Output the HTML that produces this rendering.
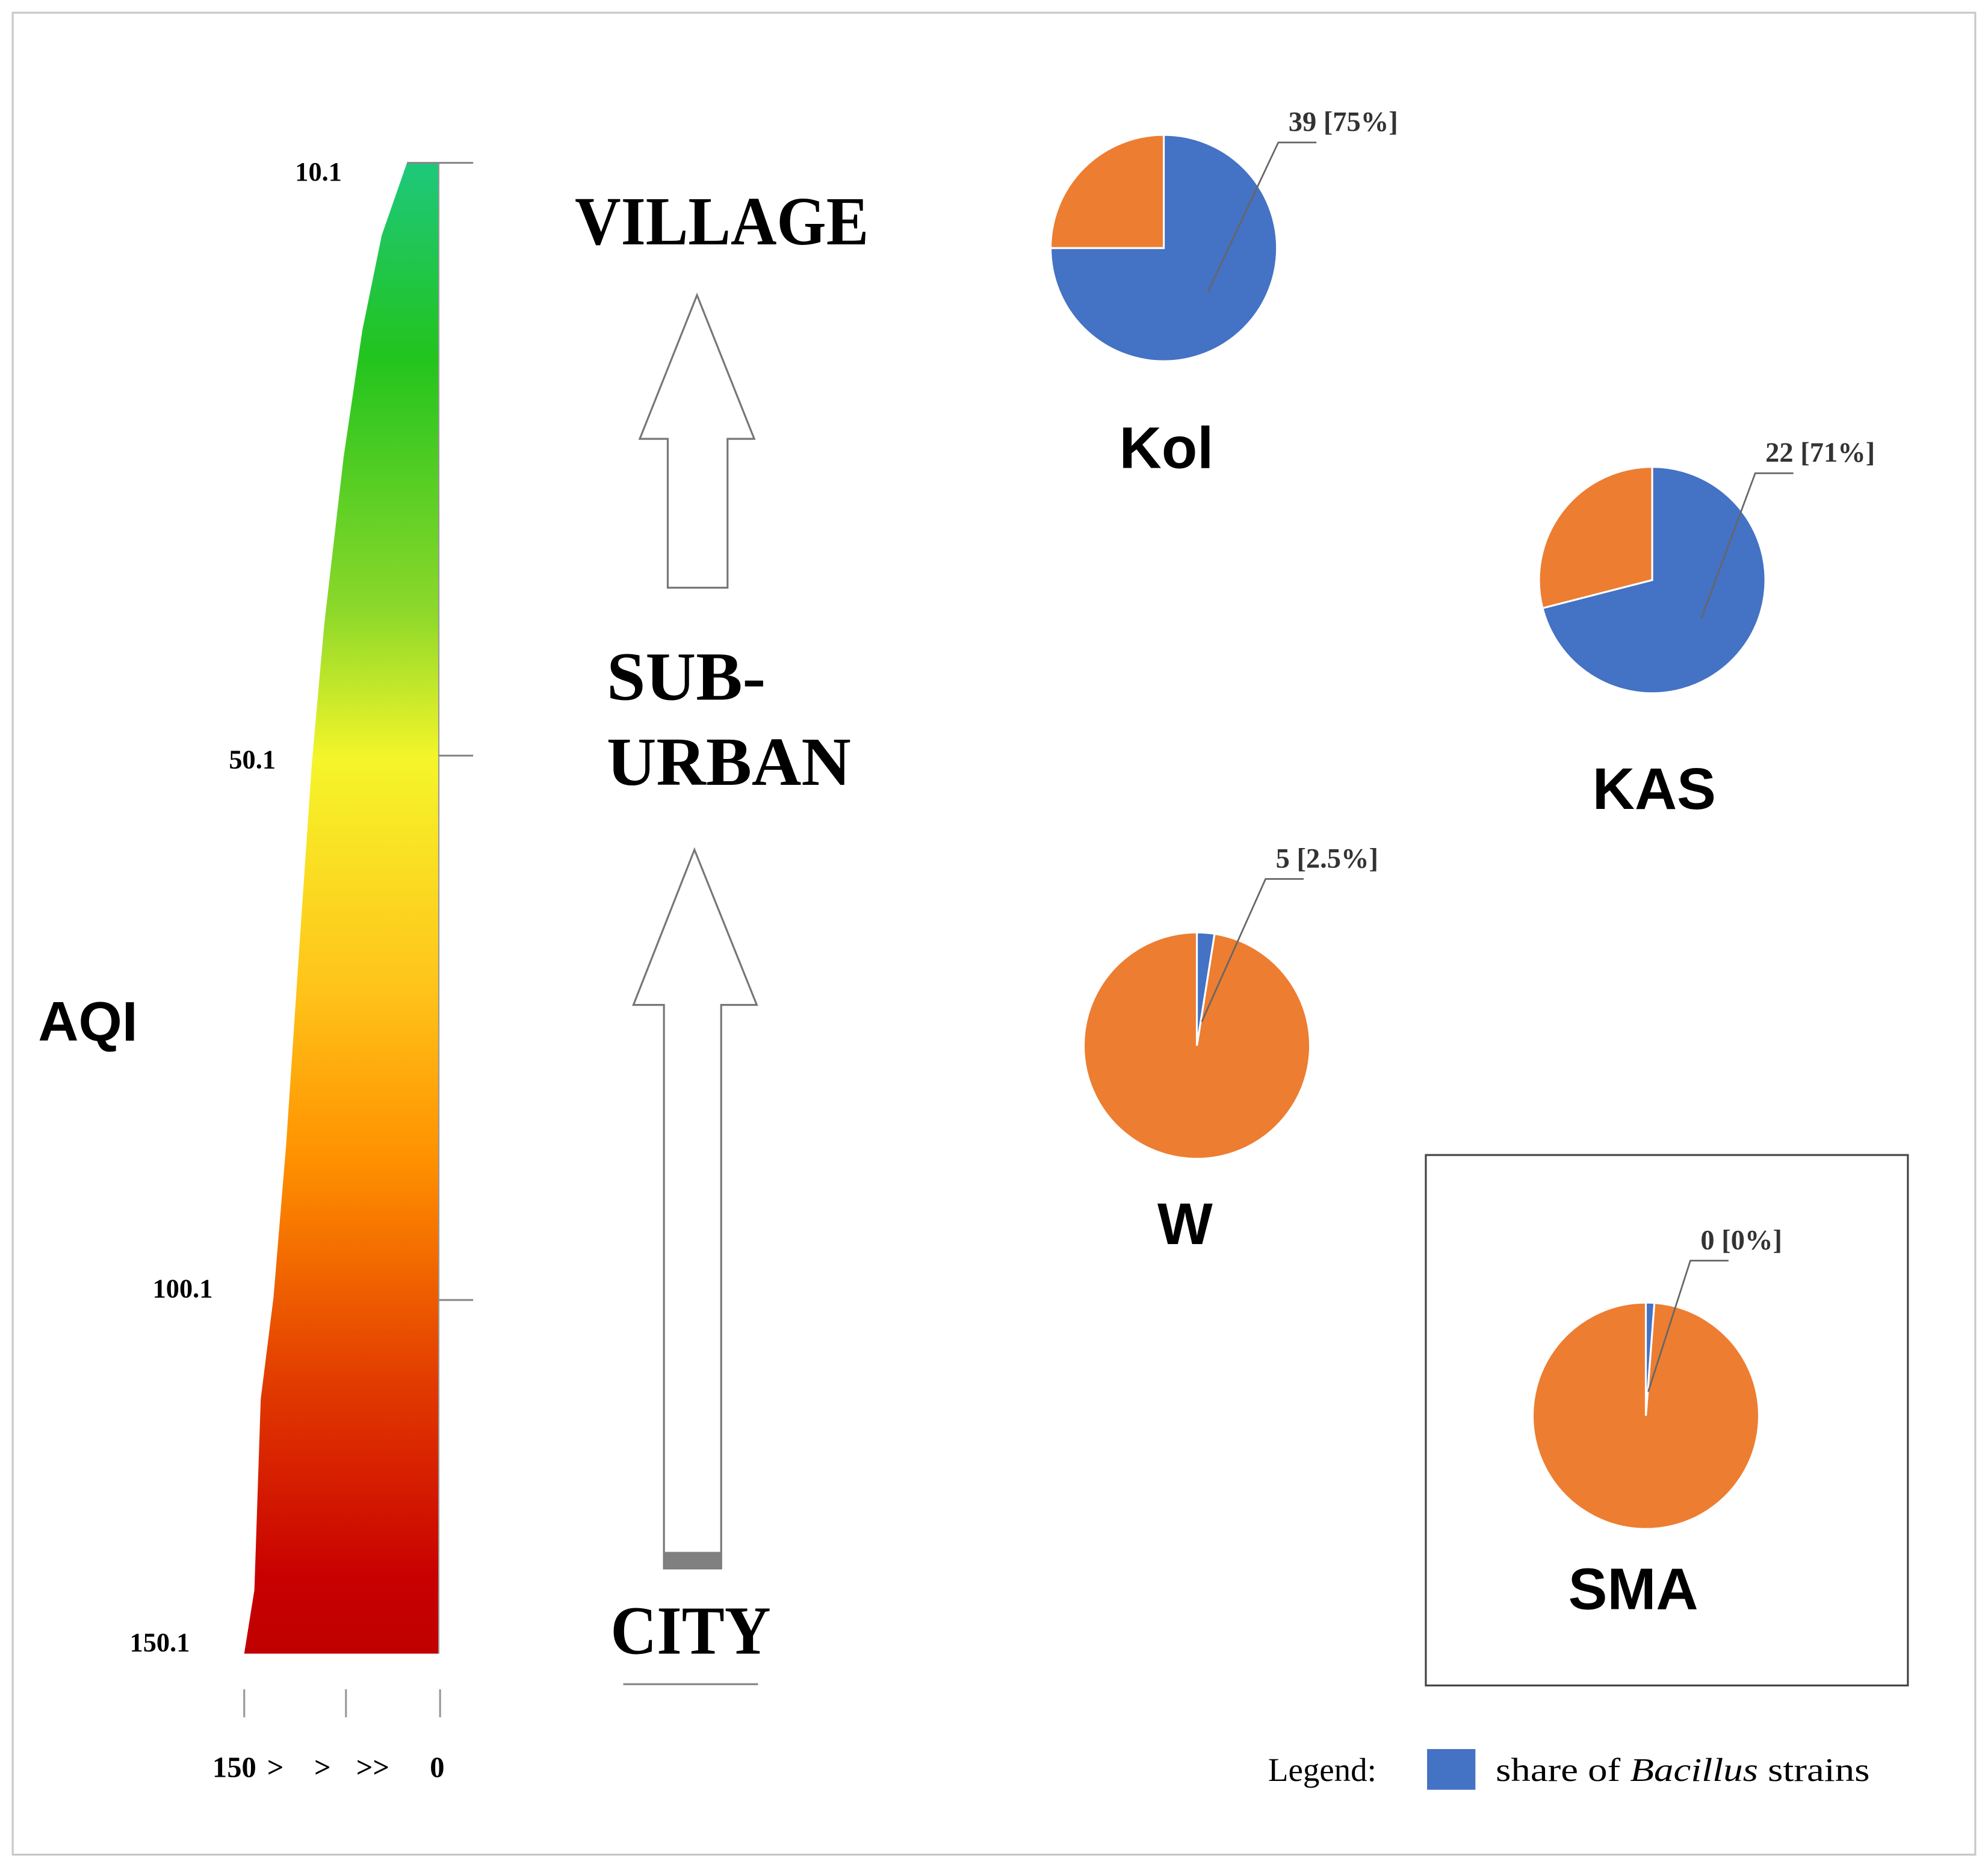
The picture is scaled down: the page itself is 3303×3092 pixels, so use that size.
<!DOCTYPE html>
<html><head><meta charset="utf-8"><style>
html,body{margin:0;padding:0;background:#fff;}
svg{display:block;}
.serif{font-family:"Liberation Serif",serif;font-weight:bold;}
.sans{font-family:"Liberation Sans",sans-serif;font-weight:bold;}
</style></head><body>
<svg id="chart" width="3303" height="3092" viewBox="0 0 1563 1463" preserveAspectRatio="none" xmlns="http://www.w3.org/2000/svg">
<defs>
<linearGradient id="aqiGrad" x1="0" y1="0" x2="0" y2="1">
<stop offset="0" stop-color="#1ec87c"/>
<stop offset="0.13" stop-color="#22c41e"/>
<stop offset="0.3" stop-color="#8cd82a"/>
<stop offset="0.4" stop-color="#f5f52a"/>
<stop offset="0.55" stop-color="#ffc51a"/>
<stop offset="0.67" stop-color="#ff9000"/>
<stop offset="0.82" stop-color="#e23a00"/>
<stop offset="0.95" stop-color="#c80000"/>
<stop offset="1" stop-color="#c00000"/>
</linearGradient>
</defs>
<rect x="10" y="10" width="1543" height="1448" fill="none" stroke="#c8c8c8" stroke-width="1.5"/>
<g id="aqi"></g>
<text class="sans" x="30" y="818" font-size="44">AQI</text>
<g stroke="#999" stroke-width="1.5">
<line x1="192" y1="1328" x2="192" y2="1350"/><line x1="272" y1="1328" x2="272" y2="1350"/><line x1="346" y1="1328" x2="346" y2="1350"/>
</g>
<g class="serif" font-size="23">
<text x="167" y="1397">150</text><text x="210" y="1397">&gt;</text><text x="247" y="1397">&gt;</text><text x="280" y="1397">&gt;&gt;</text><text x="338" y="1397">0</text>
</g>

<text class="serif" x="452" y="192" font-size="54" textLength="231" lengthAdjust="spacingAndGlyphs">VILLAGE</text>
<text class="serif" x="477" y="550" font-size="54" textLength="125" lengthAdjust="spacingAndGlyphs">SUB-</text>
<text class="serif" x="477" y="617" font-size="54" textLength="192" lengthAdjust="spacingAndGlyphs">URBAN</text>
<text class="serif" x="480" y="1300" font-size="54" textLength="126" lengthAdjust="spacingAndGlyphs">CITY</text>
<line x1="490" y1="1324" x2="596" y2="1324" stroke="#888" stroke-width="1.5"/>
<polygon points="548,232 593,345 572,345 572,462 525,462 525,345 503,345" fill="#fff" stroke="#777" stroke-width="1.5"/>
<polygon points="546,668 595,790 567,790 567,1233 522,1233 522,790 498,790" fill="#fff" stroke="#777" stroke-width="1.5"/>
<rect x="522" y="1220" width="45" height="13" fill="#808080"/>

<rect x="1121" y="908" width="379" height="417" fill="none" stroke="#444" stroke-width="1.5"/>
<g id="pies"></g>

<text x="997" y="1400" font-size="26" font-family="Liberation Serif, serif">Legend:</text>
<rect x="1122" y="1375" width="38" height="32" fill="#4472c4"/>
<text x="1176" y="1400" font-size="26" font-family="Liberation Serif, serif" textLength="294" lengthAdjust="spacingAndGlyphs">share of <tspan font-style="italic">Bacillus</tspan> strains</text>
</svg>
<script>
// AQI profile (left edge of the colored wedge vs AQI)
const aqiTicks = [10.1, 50.1, 100.1, 150.1];
const aqiTickLabels = ["10.1", "50.1", "100.1", "150.1"];
const profileAqi = [10.1, 15, 21.4, 30, 41.2, 50.8, 68.3, 85.8, 99.9, 114.1, 141.1, 150.1];
const profileLevel = [13, 23.4, 31.3, 39, 46.9, 52, 57.3, 62.5, 67.7, 72.9, 75.5, 79.7];
// Pies
const pieNames = ["Kol", "KAS", "W", "SMA"];
const pieCounts = ["39", "22", "5", "0"];
const pieShares = [75, 71, 2.5, 1.2];
const pieLabels = ["39 [75%]", "22 [71%]", "5 [2.5%]", "0 [0%]"];

const NS = "http://www.w3.org/2000/svg";
function mk(tag, attrs, parent) { const e = document.createElementNS(NS, tag); for (const k in attrs) e.setAttribute(k, attrs[k]); parent.appendChild(e); return e; }
// piecewise axis (non-uniform AQI scale as in the figure)
const axisPx = [128, 594, 1022, 1300];
const xRight = 345, xLevel0 = 345, xLevel100 = 153;
function yScale(v) {
  for (let i = 0; i < aqiTicks.length - 1; i++) {
    if (v <= aqiTicks[i + 1] || i === aqiTicks.length - 2) {
      return axisPx[i] + (v - aqiTicks[i]) / (aqiTicks[i + 1] - aqiTicks[i]) * (axisPx[i + 1] - axisPx[i]);
    }
  }
}
function xScale(l) { return xLevel0 + (xLevel100 - xLevel0) * l / 100; }
const yTop = yScale(aqiTicks[0]), yBot = yScale(aqiTicks[aqiTicks.length - 1]);

const gA = document.getElementById('aqi');
let pts = [];
for (let i = 0; i < profileAqi.length; i++) pts.push(xScale(profileLevel[i]).toFixed(1) + "," + yScale(profileAqi[i]).toFixed(1));
pts.push(xRight + "," + yBot); pts.push(xRight + "," + yTop);
const wedge = mk('polygon', {points: pts.join(" "), fill: "url(#aqiGrad)"}, gA);


const ax = mk('line', {x1: xRight, y1: yTop, x2: xRight, y2: yBot, stroke: "#999", "stroke-width": 1}, gA);


const labelX = [232, 180, 120, 102];
const labelDy = [14, 10, -2, -2];
for (let i = 0; i < aqiTicks.length; i++) {
  const y = yScale(aqiTicks[i]);
  if (i < 3) {
    const t = mk('line', {x1: i === 0 ? 320 : xRight, y1: y, x2: 372, y2: y, stroke: "#888", "stroke-width": 1.5}, gA);
    
    
  }
  const lb = mk('text', {x: labelX[i], y: y + labelDy[i], "font-size": 21, "class": "serif"}, gA);
  lb.textContent = aqiTickLabels[i];
  
  
}

// pies
const centers = [[915, 195], [1299, 456], [941, 822], [1294, 1113]];
const nameXY = [[880, 368], [1252, 636], [910, 978], [1233, 1265]];
const labelXY = [[1013, 103], [1388, 363], [1003, 682], [1337, 982]];
const R = 89;
const gP = document.getElementById('pies');
function arcPath(cx, cy, r, a0, a1) {
  const p0 = [cx + r * Math.sin(a0), cy - r * Math.cos(a0)], p1 = [cx + r * Math.sin(a1), cy - r * Math.cos(a1)];
  const large = (a1 - a0) > Math.PI ? 1 : 0;
  return `M${cx},${cy} L${p0[0]},${p0[1]} A${r},${r} 0 ${large} 1 ${p1[0]},${p1[1]} Z`;
}
for (let i = 0; i < pieNames.length; i++) {
  const [cx, cy] = centers[i];
  const a = pieShares[i] / 100 * 2 * Math.PI;
  const g = mk('g', {}, gP);
  
  
  const o = mk('path', {d: arcPath(cx, cy, R, a, 2 * Math.PI), fill: "#ed7d31", stroke: "#fff", "stroke-width": 1.5}, g);
  
  
  const b = mk('path', {d: arcPath(cx, cy, R, 0, a), fill: "#4472c4", stroke: "#fff", "stroke-width": 1.5}, g);
  
  
  const mid = a / 2, rr = R * 0.55;
  const sx = cx + rr * Math.sin(mid), sy = cy - rr * Math.cos(mid) + (pieShares[i] < 10 ? 30 : 0);
  const [lx, ly] = labelXY[i];
  const ld = mk('polyline', {points: `${sx},${sy} ${lx - 8},${ly + 9} ${lx + 22},${ly + 9}`, fill: "none", stroke: "#666", "stroke-width": 1.3}, g);
  
  
  const lt = mk('text', {x: lx, y: ly, "font-size": 22, "class": "serif", fill: "#333"}, g);
  lt.textContent = pieLabels[i];
  
  
  const nt = mk('text', {x: nameXY[i][0], y: nameXY[i][1], "font-size": 46, "class": "sans"}, g);
  nt.textContent = pieNames[i];
  
  
}
</script>
</body></html>
